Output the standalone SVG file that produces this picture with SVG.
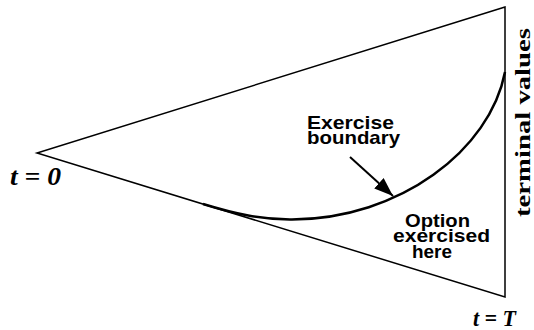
<svg xmlns="http://www.w3.org/2000/svg" width="534" height="330" viewBox="0 0 534 330">
<defs>
<style>
.edge{fill:none;stroke:#000;stroke-width:1.5}
.curve{fill:none;stroke:#000;stroke-width:2.5}
.lab{font-family:"Liberation Sans",Arial,sans-serif;font-weight:bold;font-size:19px;fill:#000}
.math{font-family:"Liberation Serif","Times New Roman",serif;font-weight:bold;font-style:italic;fill:#000}
.term{font-family:"Liberation Serif","Times New Roman",serif;font-weight:bold;font-size:22px;fill:#000}
</style>
<marker id="ah2" markerWidth="19" markerHeight="14" refX="19" refY="7" orient="auto" markerUnits="userSpaceOnUse" viewBox="0 0 19 14">
<path d="M0,0 L19,7 L0,14 z" fill="#000"/>
</marker>
</defs>
<g id="connectors">
<path id="tree" class="edge" d="M505,7 L37,153 L505,297 Z"/>
<path id="boundary-curve" class="curve" d="M203,204 C235,213.8 262,219.8 292,219.5 C400,219 490,150 505,72"/>
<line id="arrow" x1="350" y1="157" x2="393" y2="196" stroke="#000" stroke-width="2" marker-end="url(#ah2)"/>
</g>
<g id="label-t0"><text class="math" x="10" y="185" font-size="25" textLength="51" lengthAdjust="spacingAndGlyphs">t = 0</text></g>
<g id="label-tT"><text class="math" x="473" y="326" font-size="23" textLength="43" lengthAdjust="spacingAndGlyphs">t = T</text></g>
<g id="label-terminal"><text class="term" transform="translate(530,217) rotate(-90)" textLength="189" lengthAdjust="spacingAndGlyphs">terminal values</text></g>
<g id="label-boundary">
<text class="lab" x="307" y="129" textLength="87" lengthAdjust="spacingAndGlyphs">Exercise</text>
<text class="lab" x="307" y="144" textLength="93" lengthAdjust="spacingAndGlyphs">boundary</text>
</g>
<g id="label-option">
<text class="lab" x="405" y="227" textLength="65" lengthAdjust="spacingAndGlyphs">Option</text>
<text class="lab" x="393" y="242" textLength="97" lengthAdjust="spacingAndGlyphs">exercised</text>
<text class="lab" x="412" y="258" textLength="40" lengthAdjust="spacingAndGlyphs">here</text>
</g>
</svg>
